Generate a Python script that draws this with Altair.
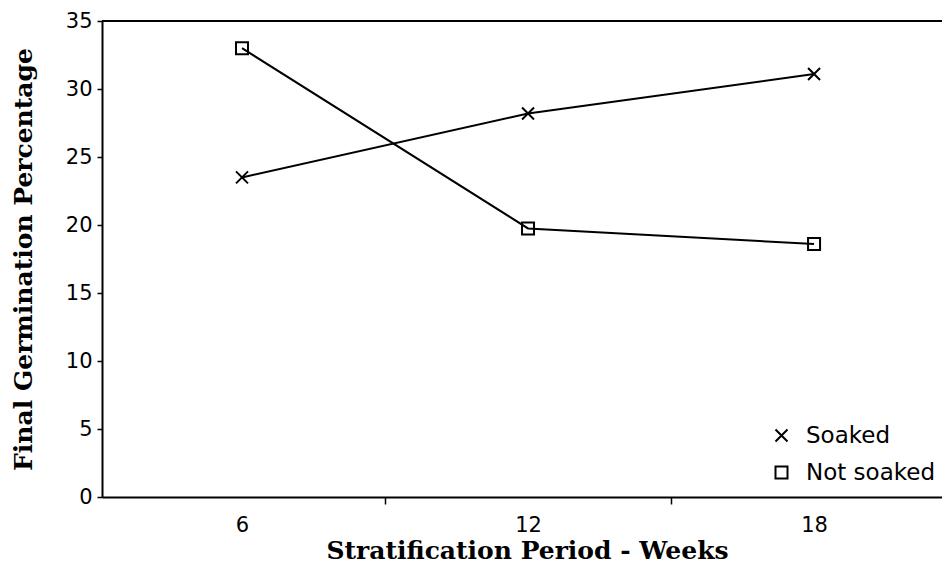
import altair as alt
import pandas as pd

# ---- data ----
weeks = [6, 12, 18]
soaked = [23.5, 28.2, 31.1]
not_soaked = [33.0, 19.75, 18.6]
series_names = ["Soaked", "Not soaked"]
y_tick_values = [0, 5, 10, 15, 20, 25, 30, 35]
x_tick_values = [6, 9, 12, 15, 18]
x_domain = [3.063, 20.684]
y_domain = [0, 35]

rows = []
for w, v in zip(weeks, soaked):
    rows.append({"weeks": w, "pct": v, "series": series_names[0]})
for w, v in zip(weeks, not_soaked):
    rows.append({"weeks": w, "pct": v, "series": series_names[1]})
df = pd.DataFrame(rows)

X_PATH = "M-1,-1L1,1M1,-1L-1,1"

PLOT_W = 840
PLOT_H = 476

x_enc = alt.X(
    "weeks:Q",
    scale=alt.Scale(domain=x_domain, nice=False, zero=False),
    axis=alt.Axis(
        title="Stratification Period - Weeks",
        values=x_tick_values,
        labelExpr="datum.value % 6 == 0 ? datum.label : ''",
        tickOpacity={"condition": {"test": "datum.value % 6 == 0", "value": 0}, "value": 1},
        grid=False,
        labelAngle=0,
        labelPadding=10,
        tickSize=7,
        titleX=425,
        titleY=61,
        titleAlign="center",
        titleBaseline="alphabetic",
    ),
)
y_enc = alt.Y(
    "pct:Q",
    scale=alt.Scale(domain=y_domain, nice=False, zero=True),
    axis=alt.Axis(
        values=y_tick_values,
        title="Final Germination Percentage",
        grid=False,
        tickSize=5,
        labelPadding=5,
        titleAngle=270,
        titleX=-79,
        titleY=238,
        titleAlign="center",
        titleBaseline="middle",
    ),
)

base = alt.Chart(df)

top_line = alt.Chart(pd.DataFrame({"top": [y_domain[1]]})).mark_rule(
    color="black", strokeWidth=2
).encode(y=alt.Y("top:Q", scale=alt.Scale(domain=y_domain, nice=False)))

lines = base.mark_line(color="black", strokeWidth=2).encode(
    x=x_enc,
    y=y_enc,
    detail="series:N",
)

points = base.mark_point(
    filled=False, color="black", strokeWidth=2, size=144, opacity=1
).encode(
    x=x_enc,
    y=y_enc,
    shape=alt.Shape(
        "series:N",
        scale=alt.Scale(domain=series_names, range=[X_PATH, "square"]),
        legend=alt.Legend(
            title=None,
            orient="none",
            legendX=668,
            legendY=403,
            padding=0,
            labelFontSize=23,
            labelFont="DejaVu Sans",
            labelColor="black",
            labelOffset=13,
            rowPadding=13,
            symbolSize=144,
            symbolStrokeWidth=2,
            symbolStrokeColor="black",
        ),
    ),
)

chart = (
    alt.layer(top_line, lines, points)
    .properties(
        width=PLOT_W,
        height=PLOT_H,
        autosize=alt.AutoSizeParams(type="none"),
        padding={"left": 94, "top": 13, "right": 0, "bottom": 69},
        background="white",
    )
    .configure_view(stroke="transparent")
    .configure_axis(
        domainColor="black",
        domainWidth=2,
        tickColor="black",
        tickWidth=1.5,
        labelFont="DejaVu Sans",
        labelFontSize=21,
        labelColor="black",
        titleFont="DejaVu Serif",
        titleFontWeight="bold",
        titleFontSize=25,
        titleColor="black",
    )
)

chart.save("out.html", embed_options={"renderer": "svg", "actions": False})
